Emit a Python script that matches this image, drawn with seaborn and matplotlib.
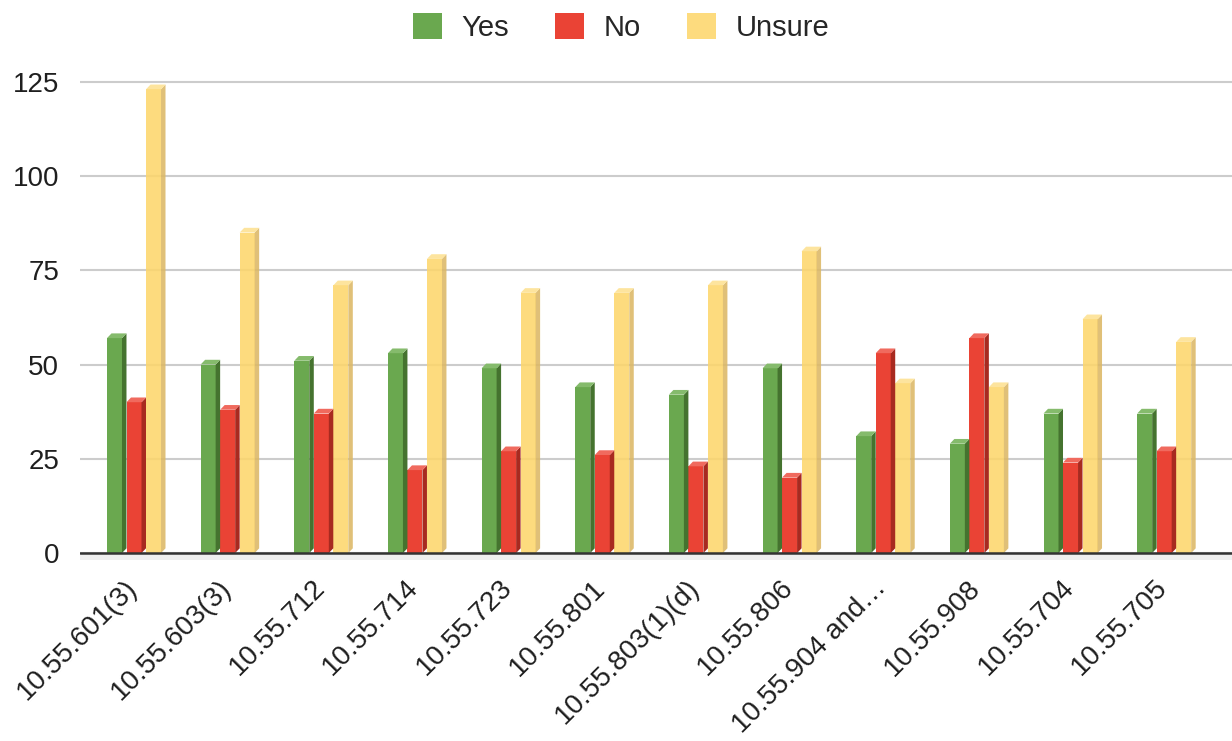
import pandas as pd
import matplotlib.pyplot as plt
import matplotlib.transforms as mtransforms
import seaborn as sns
from matplotlib.patches import Polygon, Patch

# Values
sections = ['10.55.601(3)', '10.55.603(3)', '10.55.712', '10.55.714', '10.55.723',
            '10.55.801', '10.55.803(1)(d)', '10.55.806', '10.55.904 and\u2026',
            '10.55.908', '10.55.704', '10.55.705']
yes_counts = [57, 50, 51, 53, 49, 44, 42, 49, 31, 29, 37, 37]
no_counts = [40, 38, 37, 22, 27, 26, 23, 20, 53, 57, 24, 27]
unsure_counts = [123, 85, 71, 78, 69, 69, 71, 80, 45, 44, 62, 56]
responses = ['Yes', 'No', 'Unsure']

front_colors = ['#6aa84f', '#ea4335', '#fdd66c']
side_colors = ['#45732f', '#a82a20', '#dcb865']
top_colors = ['#85bb6c', '#f06a5e', '#fde191']
bar_alpha = [1.0, 1.0, 0.88]

data = pd.DataFrame({
    'section': sections * 3,
    'count': yes_counts + no_counts + unsure_counts,
    'response': ['Yes'] * 12 + ['No'] * 12 + ['Unsure'] * 12,
})

sns.set_style('white')
plt.rcParams['font.family'] = ['Liberation Sans', 'DejaVu Sans']

fig = plt.figure(figsize=(12.32, 7.41), dpi=100)
ax = fig.add_axes([0.065, 0.244, 0.935, 0.661])

sns.barplot(data=data, x='section', y='count', hue='response', hue_order=responses,
            palette=front_colors, saturation=1, width=0.625, legend=False, ax=ax, zorder=3)

# fake 3D look: shrink the front face and add a side and a top
front_w = 0.16
dx = 0.048
dy = 1.25
for i, container in enumerate(ax.containers):
    for bar in container:
        x = bar.get_x()
        h = bar.get_height()
        bar.set_width(front_w)
        bar.set_alpha(bar_alpha[i])
        bar.set_edgecolor('none')
        side = Polygon([(x + front_w, 0), (x + front_w + dx, dy),
                        (x + front_w + dx, h + dy), (x + front_w, h)],
                       closed=True, facecolor=side_colors[i], edgecolor='none',
                       alpha=bar_alpha[i], zorder=3)
        top = Polygon([(x, h), (x + dx, h + dy), (x + front_w + dx, h + dy), (x + front_w, h)],
                      closed=True, facecolor=top_colors[i], edgecolor='none',
                      alpha=bar_alpha[i], zorder=3)
        ax.add_patch(side)
        ax.add_patch(top)

ax.set_ylim(-1.9, 128)
ax.set_xlim(-0.6, 11.7)
ax.set_yticks([0, 25, 50, 75, 100, 125])
ax.yaxis.grid(True, color='#cccccc', linewidth=1.5)
ax.set_axisbelow(True)
ax.axhspan(-1.9, 0, color='#efefef', zorder=1, linewidth=0)
ax.axhline(0, color='#333333', linewidth=1.8, zorder=4)

for s in ax.spines.values():
    s.set_visible(False)
ax.tick_params(axis='both', length=0, labelsize=20, colors='#1f1f1f')
ax.tick_params(axis='y', pad=15)
ax.tick_params(axis='x', pad=12)
ax.set_xticks(range(len(sections)))
ax.set_xticklabels(sections, rotation=45, ha='right', rotation_mode='anchor')
shift = mtransforms.ScaledTranslation(-0.12, 0.02, fig.dpi_scale_trans)
for lbl in ax.get_xticklabels():
    lbl.set_transform(lbl.get_transform() + shift)
ax.set_xlabel('')
ax.set_ylabel('')

handles = [Patch(facecolor=c, edgecolor='none', alpha=a) for c, a in zip(front_colors, bar_alpha)]
fig.legend(handles, responses, loc='center', bbox_to_anchor=(0.504, 0.963), ncol=3,
           frameon=False, fontsize=21, handlelength=1.0, handleheight=1.0,
           handletextpad=0.65, columnspacing=1.6)

fig.savefig('out.png', dpi=100)
